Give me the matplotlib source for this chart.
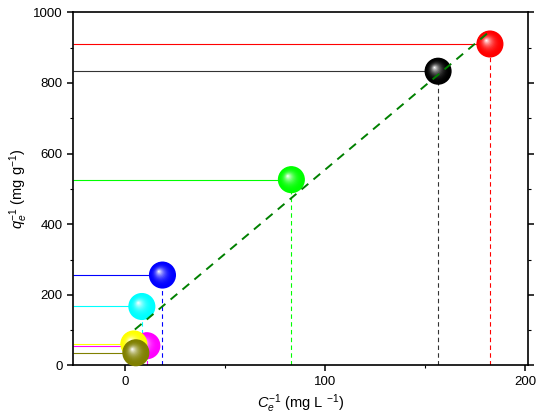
"""
Linearised isotherm: inverse uptake against inverse equilibrium concentration
"""

import numpy as np
import matplotlib.pyplot as plt
from matplotlib.colors import to_rgb
from matplotlib.ticker import MultipleLocator
from matplotlib.transforms import ScaledTranslation

plt.rcParams["font.family"] = ["Liberation Sans", "DejaVu Sans"]
plt.rcParams["mathtext.fontset"] = "custom"
plt.rcParams["mathtext.rm"] = "Liberation Sans"
plt.rcParams["mathtext.it"] = "Liberation Sans:italic"

# inverse equilibrium concentration and inverse uptake for each sample
ce_inv = [182.4, 156.5, 83.2, 18.8, 8.5, 11.0, 4.5, 5.5]
qe_inv = [910, 833, 526, 256, 167, 56, 61, 36]
colors = ["#ff0000", "#000000", "#00ff00", "#0000ff", "#00ffff", "#ff00ff", "#ffff00", "#808000"]
line_colors = ["#ff0000", "#333333", "#00ff00", "#0000ff", "#00ffff", "#ff00ff", "#ffff00", "#808000"]

# linear fit
fit_slope = 4.76
fit_intercept = 78.0
fit_range = [5.0, 181.0]

xmin, xmax = -25.9, 201.4

fig = plt.figure(figsize=(5.36, 4.18), dpi=100)
ax = fig.add_axes([0.1362, 0.1256, 0.985 - 0.1362, 0.9708 - 0.1256])

# guide lines to the axes
for x, y, c in zip(ce_inv, qe_inv, line_colors):
    ax.hlines(y, xmin, x, color=c, lw=0.8, zorder=2)
    ax.vlines(x, 0, y, color=c, lw=0.8, linestyles=(0, (4, 3)), zorder=2)


def ball(x, y, color, size=380, steps=16):
    # shaded sphere: shrinking discs fading to white towards the highlight
    base = np.array(to_rgb(color))
    white = np.ones(3)
    for k in range(steps):
        f = k / (steps - 1)
        s = size * (1 - 0.96 * f) ** 2
        mix = f ** 2.6
        col = base * (1 - mix) + white * mix
        off = ScaledTranslation(-2.6 * f / 72, 2.6 * f / 72, fig.dpi_scale_trans)
        ax.scatter([x], [y], s=s, color=col, edgecolors="none",
                   transform=ax.transData + off, zorder=3, clip_on=False)


for x, y, c in zip(ce_inv, qe_inv, colors):
    ball(x, y, c)

fx = np.array(fit_range)
ax.plot(fx, fit_slope * fx + fit_intercept, color="#008000", lw=1.4,
        linestyle=(0, (4.5, 3.5)), zorder=4)

ax.set_xlim(xmin, xmax)
ax.set_ylim(0, 1000)
ax.xaxis.set_major_locator(MultipleLocator(100))
ax.xaxis.set_minor_locator(MultipleLocator(50))
ax.yaxis.set_major_locator(MultipleLocator(200))
ax.yaxis.set_minor_locator(MultipleLocator(100))
ax.tick_params(which="major", direction="out", length=4, width=1.1, labelsize=9.5,
               right=True)
ax.tick_params(which="minor", direction="out", length=2.5, width=0.8, right=True)
for sp in ax.spines.values():
    sp.set_linewidth(1.2)

ax.set_xlabel(r"$C_e^{-1}$ (mg L $^{-1}$)", fontsize=10.5, labelpad=3)
ax.set_ylabel(r"$q_e^{-1}$ (mg g$^{-1}$)", fontsize=10.5, labelpad=2)

fig.savefig("out.png", dpi=100)
